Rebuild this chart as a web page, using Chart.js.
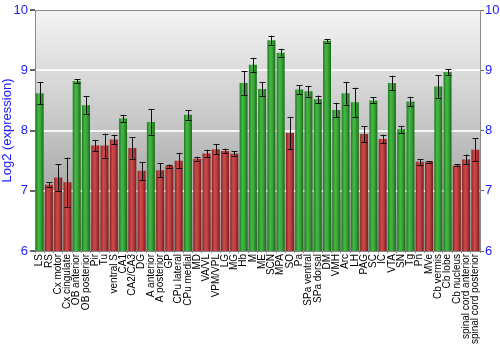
<!DOCTYPE html>
<html><head><meta charset="utf-8">
<script src="https://cdn.jsdelivr.net/npm/chart.js@4/dist/chart.umd.min.js"></script>
<style>html,body{margin:0;padding:0;background:#fff}canvas{display:block}</style>
</head><body>
<canvas id="c" width="500" height="350"></canvas>
<script>
const categories = ["LS","RS","Cx motor","Cx cingulate","OB anterior","OB posterior","Pir","Tu","ventral S","CA1","CA2/CA3","DG","A anterior","A posterior","GP","CPu lateral","CPu medial","MD","VA/VL","VPM/VPL","LG","MG","Hb","M","ME","SCN","MPA","SO","Pa","SPa ventral","SPa dorsal","DM","VMH","Arc","LH","PAG","SC","IC","VTA","SN","Tg","Pn","MVe","Cb vermis","Cb lobe","Cb nucleus","spinal cord anterior","spinal cord posterior"];
const values = [8.62,7.10,7.22,7.14,8.82,8.42,7.75,7.75,7.85,8.20,7.71,7.33,8.14,7.34,7.41,7.50,8.26,7.53,7.62,7.69,7.66,7.62,8.79,9.09,8.69,9.50,9.29,7.96,8.68,8.65,8.52,9.49,8.34,8.62,8.47,7.94,8.50,7.86,8.79,8.02,8.48,7.48,7.48,8.73,8.97,7.42,7.52,7.68];
const errors = [0.18,0.04,0.22,0.41,0.03,0.15,0.09,0.20,0.08,0.06,0.18,0.15,0.21,0.12,0.025,0.13,0.08,0.035,0.06,0.08,0.04,0.035,0.20,0.12,0.12,0.075,0.066,0.27,0.07,0.09,0.06,0.03,0.12,0.19,0.24,0.13,0.05,0.07,0.12,0.06,0.08,0.045,0.015,0.19,0.05,0.017,0.08,0.19];
const yTicks = [6,7,8,9,10];
const threshold = 8;

const FONT = "'Liberation Sans', Arial, sans-serif";
const BLUE = '#1a1aff';
const BAR_PCT = 0.86;

function barFill(ctx) {
  const chart = ctx.chart;
  const xs = chart.scales.x;
  if (!xs || ctx.dataIndex === undefined) return '#3a3';
  const i = ctx.dataIndex;
  const step = xs.getPixelForValue(1) - xs.getPixelForValue(0);
  const cx = xs.getPixelForValue(i);
  const w = step * BAR_PCT;
  if (!isFinite(cx) || !isFinite(w) || w <= 0) return '#3a3';
  const g = chart.ctx.createLinearGradient(cx - w/2, 0, cx + w/2, 0);
  if (values[i] >= threshold) {
    g.addColorStop(0, '#1f7a1f');
    g.addColorStop(0.35, '#45b845');
    g.addColorStop(0.6, '#3aa83a');
    g.addColorStop(1, '#196a19');
  } else {
    g.addColorStop(0, '#8a2222');
    g.addColorStop(0.35, '#cc4a4a');
    g.addColorStop(0.6, '#bd4040');
    g.addColorStop(1, '#7a1c1c');
  }
  return g;
}

const bgPlugin = {
  id: 'bg',
  beforeDraw(chart) {
    const a = chart.chartArea, c = chart.ctx;
    const g = c.createLinearGradient(0, a.top, 0, a.bottom);
    g.addColorStop(0, '#f4f4f4');
    g.addColorStop(0.5, '#c4c4c4');
    g.addColorStop(1, '#8e8e8e');
    c.save();
    c.fillStyle = g;
    c.fillRect(a.left, a.top, a.right - a.left, a.bottom - a.top);
    c.restore();
  }
};

const errPlugin = {
  id: 'err',
  afterDatasetsDraw(chart) {
    const xs = chart.scales.x, ys = chart.scales.y, c = chart.ctx;
    c.save();
    c.strokeStyle = '#111';
    c.lineWidth = 1;
    values.forEach((v, i) => {
      const x = Math.round(xs.getPixelForValue(i)) + 0.5;
      const y1 = ys.getPixelForValue(v + errors[i]);
      const y2 = ys.getPixelForValue(v - errors[i]);
      c.beginPath();
      c.moveTo(x, y1); c.lineTo(x, y2);
      c.moveTo(x - 3, Math.round(y1) + 0.5); c.lineTo(x + 3, Math.round(y1) + 0.5);
      c.moveTo(x - 3, Math.round(y2) + 0.5); c.lineTo(x + 3, Math.round(y2) + 0.5);
      c.stroke();
    });
    c.restore();
  }
};

const topLine = {
  id: 'topline',
  afterDraw(chart) {
    const a = chart.chartArea, c = chart.ctx;
    c.save();
    c.strokeStyle = '#888';
    c.lineWidth = 1;
    c.beginPath();
    c.moveTo(a.left, a.top + 0.5); c.lineTo(a.right, a.top + 0.5);
    c.stroke();
    c.restore();
  }
};

new Chart(document.getElementById('c'), {
  type: 'bar',
  data: {
    labels: categories,
    datasets: [{
      data: values,
      backgroundColor: barFill,
      borderWidth: 0,
      barPercentage: BAR_PCT,
      categoryPercentage: 1.0
    }]
  },
  options: {
    responsive: false,
    animation: false,
    devicePixelRatio: 1,
    layout: { padding: { top: 10, left: 0, right: 0, bottom: 0 } },
    plugins: { legend: { display: false }, tooltip: { enabled: false } },
    scales: {
      x: {
        afterFit(s) { s.height = 99; },
        grid: { display: true, drawOnChartArea: false, tickLength: 2, color: '#888' },
        border: { color: '#888' },
        ticks: {
          autoSkip: false, minRotation: 90, maxRotation: 90, padding: 1,
          color: '#000', font: { family: FONT, size: 10 }
        }
      },
      y: {
        min: 6, max: 10,
        afterFit(s) { s.width = 35; },
        afterBuildTicks(s) { s.ticks = yTicks.map(v => ({ value: v })); },
        border: { color: '#888' },
        grid: {
          color: ctx => (ctx.tick && (ctx.tick.value === 6 || ctx.tick.value === 10)) ? 'rgba(0,0,0,0)' : 'rgba(255,255,255,0.85)',
          lineWidth: 2,
          tickColor: '#666',
          tickLength: 5
        },
        ticks: { color: BLUE, font: { family: FONT, size: 13 }, padding: 2 },
        title: { display: true, text: 'Log2 (expression)', color: BLUE, font: { family: FONT, size: 13 }, padding: 0 }
      },
      y2: {
        position: 'right',
        min: 6, max: 10,
        afterFit(s) { s.width = 20; },
        afterBuildTicks(s) { s.ticks = yTicks.map(v => ({ value: v })); },
        border: { color: '#888' },
        grid: { drawOnChartArea: false, tickLength: 4, color: '#666' },
        ticks: { color: BLUE, font: { family: FONT, size: 13 }, padding: 1 }
      }
    }
  },
  plugins: [bgPlugin, errPlugin, topLine]
});
</script>
</body></html>
